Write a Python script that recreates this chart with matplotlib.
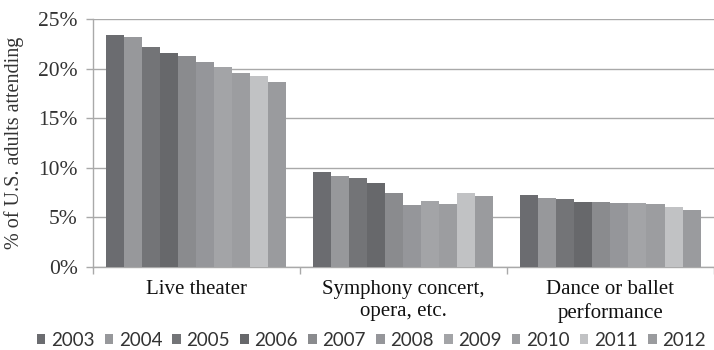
import matplotlib
matplotlib.use("Agg")
import matplotlib.pyplot as plt
import numpy as np

categories = ["Live theater", "Symphony concert,\nopera, etc.", "Dance or ballet\nperformance"]
years = ["2003", "2004", "2005", "2006", "2007", "2008", "2009", "2010", "2011", "2012"]

live_theater = [23.4, 23.2, 22.2, 21.6, 21.3, 20.7, 20.2, 19.5, 19.2, 18.6]
symphony = [9.6, 9.2, 9.0, 8.5, 7.5, 6.25, 6.7, 6.35, 7.5, 7.2]
dance = [7.3, 7.0, 6.85, 6.6, 6.6, 6.45, 6.5, 6.35, 6.1, 5.75]

year_colors = ["#6b6c70", "#97989b", "#737477", "#67686b", "#8a8b8e",
               "#95969a", "#a3a4a7", "#9c9da0", "#c1c2c4", "#9a9b9e"]

yticks = [0, 5, 10, 15, 20, 25]

plt.rcParams["font.family"] = ["Liberation Serif", "DejaVu Serif"]

fig = plt.figure(figsize=(7.14, 3.5), dpi=100)
ax = fig.add_axes([0.130, 0.237, 0.870, 0.709])

values = np.array([live_theater, symphony, dance])  # shape (category, year)
x = np.arange(len(categories))
bw = 0.087
for i, (yr, col) in enumerate(zip(years, year_colors)):
    ax.bar(x + (i - 4.5) * bw, values[:, i], width=bw, color=col,
           label=yr, zorder=3, linewidth=0)

ax.set_xlim(-0.5, 2.5)
ax.set_ylim(0, 25)
ax.set_yticks(yticks)
ax.set_yticklabels([f"{v}%" for v in yticks], fontsize=15.5, color="#333333")
ax.yaxis.grid(True, color="#a9a9a9", linewidth=1.0, zorder=0)

ax.set_xticks(x)
ax.set_xticklabels(categories, fontsize=15, color="#111111", linespacing=1.28)
ax.set_xticks([-0.5, 0.5, 1.5, 2.5], minor=True)
ax.tick_params(axis="x", which="major", length=0, pad=9)
ax.tick_params(axis="x", which="minor", length=5, color="#a9a9a9", width=1)
ax.tick_params(axis="y", length=5, color="#a9a9a9", width=1, pad=6)

for side in ["top", "right"]:
    ax.spines[side].set_visible(False)
for side in ["left", "bottom"]:
    ax.spines[side].set_color("#a9a9a9")
    ax.spines[side].set_linewidth(1.0)

ax.set_ylabel("% of U.S. adults attending", fontsize=14.5, color="#333333", labelpad=10)

fig.legend(loc="lower center", bbox_to_anchor=(0.52, -0.045), ncol=10, frameon=False,
           handlelength=0.45, handleheight=0.45, handletextpad=0.3,
           columnspacing=0.55, labelcolor="#333333",
           prop={"family": ["Lato", "DejaVu Sans"], "size": 13.5})

fig.savefig("out.png", dpi=100)
